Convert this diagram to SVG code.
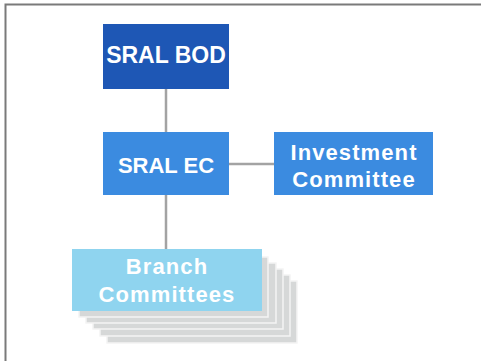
<svg xmlns="http://www.w3.org/2000/svg" width="481" height="361" viewBox="0 0 481 361">
<style>
.lbl{font-family:"Liberation Sans",Arial,sans-serif;font-weight:bold;font-size:22px;fill:#ffffff;text-anchor:middle}
.sp{letter-spacing:1.1px}
.conn{stroke:#a3a3a3;stroke-width:2.5;fill:none}
.sh{fill:#d6d8d8;stroke:#f4f4f4;stroke-width:1.5}
</style>
<rect x="0" y="0" width="481" height="361" fill="#ffffff"/>
<path d="M5.5,361 V4.5 H481" fill="none" stroke="#7a7a7a" stroke-width="2"/>
<g id="connectors">
<line class="conn" x1="166" y1="89" x2="166" y2="132"/>
<line class="conn" x1="229" y1="164" x2="274" y2="164"/>
<line class="conn" x1="166" y1="195" x2="166" y2="249"/>
</g>
<g id="sral-bod">
<rect x="103" y="24" width="126" height="65" fill="#1e57b5"/>
<text class="lbl" x="166" y="63" style="font-size:23px">SRAL BOD</text>
</g>
<g id="sral-ec">
<rect x="103" y="132" width="126" height="63" fill="#3b8be0"/>
<text class="lbl" x="166" y="173">SRAL EC</text>
</g>
<g id="investment-committee">
<rect x="274" y="132" width="159" height="63" fill="#3b8be0"/>
<text class="lbl sp" x="354" y="160">Investment</text>
<text class="lbl sp" x="354" y="187">Committee</text>
</g>
<g id="branch-committees">
<rect class="sh" x="107" y="281" width="190" height="62"/>
<rect class="sh" x="100" y="275" width="190" height="61"/>
<rect class="sh" x="93" y="269" width="190" height="60"/>
<rect class="sh" x="86" y="263" width="190" height="60"/>
<rect class="sh" x="79" y="257" width="189" height="60"/>
<rect x="72" y="249" width="190" height="62" fill="#8fd4ef"/>
<text class="lbl sp" x="167" y="274" fill="#eef8fc">Branch</text>
<text class="lbl sp" x="167" y="302">Committees</text>
</g>
</svg>
